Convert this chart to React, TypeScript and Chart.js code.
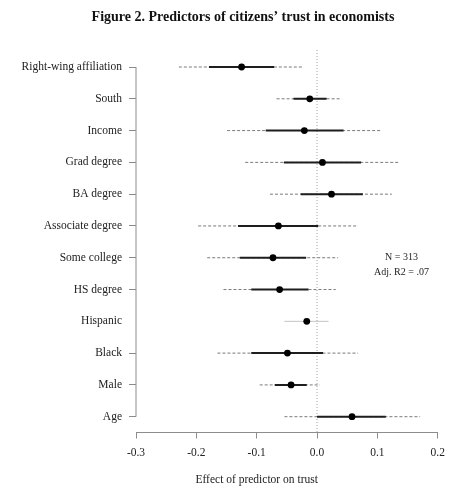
import React, { useEffect, useRef } from "react";
import { Chart, registerables } from "chart.js";

Chart.register(...registerables);

const predictors = [
  "Right-wing affiliation",
  "South",
  "Income",
  "Grad degree",
  "BA degree",
  "Associate degree",
  "Some college",
  "HS degree",
  "Hispanic",
  "Black",
  "Male",
  "Age",
];
const estimates = [-0.125, -0.012, -0.021, 0.009, 0.024, -0.064, -0.073, -0.062, -0.017, -0.049, -0.043, 0.058];
const innerLow = [-0.179, -0.039, -0.085, -0.055, -0.027, -0.131, -0.128, -0.109, null, -0.109, -0.07, 0.0];
const innerHigh = [-0.071, 0.016, 0.044, 0.073, 0.076, 0.002, -0.018, -0.014, null, 0.01, -0.017, 0.114];
const outerLow = [-0.229, -0.067, -0.149, -0.119, -0.078, -0.197, -0.182, -0.155, -0.054, -0.165, -0.095, -0.054];
const outerHigh = [-0.022, 0.041, 0.108, 0.137, 0.124, 0.068, 0.035, 0.031, 0.019, 0.068, 0.005, 0.171];
const xTicks = [-0.3, -0.2, -0.1, 0, 0.1, 0.2];
const xTickLabels = ["-0.3", "-0.2", "-0.1", "0.0", "0.1", "0.2"];
const untickedRows = ["Hispanic"];
const statsLines = ["N = 313", "Adj. R2 = .07"];
const titleText = "Figure 2. Predictors of citizens\u2019 trust in economists";
const xTitle = "Effect of predictor on trust";

const SERIF = "'Liberation Serif', 'DejaVu Serif', serif";

const decor = {
  id: "decor",
  beforeDatasetsDraw(chart: any) {
    const { ctx, chartArea, scales } = chart;
    const x = scales.x;
    const y = scales.y;
    ctx.save();
    const x0 = x.getPixelForValue(0);
    ctx.strokeStyle = "#a0a0a0";
    ctx.lineWidth = 1;
    ctx.setLineDash([1, 2]);
    ctx.beginPath();
    ctx.moveTo(x0, chartArea.top);
    ctx.lineTo(x0, chartArea.bottom);
    ctx.stroke();
    ctx.setLineDash([]);
    ctx.strokeStyle = "#8c8c8c";
    ctx.beginPath();
    ctx.moveTo(chartArea.left, y.getPixelForValue(0));
    ctx.lineTo(chartArea.left, y.getPixelForValue(predictors.length - 1));
    ctx.stroke();
    ctx.restore();
  },
  afterDraw(chart: any) {
    const { ctx, scales } = chart;
    const x = scales.x;
    const y = scales.y;
    ctx.save();
    ctx.fillStyle = "#111";
    ctx.textAlign = "center";
    ctx.textBaseline = "middle";
    ctx.font = `bold 14px ${SERIF}`;
    ctx.fillText(titleText, 243, 17);
    ctx.fillStyle = "#222";
    ctx.font = `10px ${SERIF}`;
    statsLines.forEach((t, i) => {
      ctx.fillText(t, x.getPixelForValue(0.14), y.getPixelForValue(6 + i * 0.45));
    });
    ctx.font = `11.5px ${SERIF}`;
    ctx.fillText(xTitle, x.getPixelForValue(-0.1), 480);
    ctx.restore();
  },
};

export default function App() {
  const ref = useRef<HTMLCanvasElement | null>(null);

  useEffect(() => {
    document.body.style.margin = "0";
    const canvas = ref.current;
    if (!canvas) return;

    const outerSets = predictors.map((name, i) => {
      const faint = untickedRows.includes(name);
      return {
        type: "line" as const,
        data: [
          { x: outerLow[i], y: i },
          { x: outerHigh[i], y: i },
        ],
        borderColor: faint ? "#c4c4c4" : "#7a7a7a",
        borderWidth: 1,
        borderDash: faint ? [] : [3, 2],
        pointRadius: 0,
        order: 3,
      };
    });
    const innerSets = predictors
      .map((name, i) => ({ name, i }))
      .filter((r) => innerLow[r.i] !== null && innerHigh[r.i] !== null)
      .map(({ i }) => ({
        type: "line" as const,
        data: [
          { x: innerLow[i] as number, y: i },
          { x: innerHigh[i] as number, y: i },
        ],
        borderColor: "#1e1e1e",
        borderWidth: 2,
        pointRadius: 0,
        order: 2,
      }));
    const pointSet = {
      type: "line" as const,
      data: estimates.map((v, i) => ({ x: v, y: i })),
      showLine: false,
      pointRadius: 3.4,
      pointBackgroundColor: "#000",
      pointBorderColor: "#000",
      pointBorderWidth: 0,
      order: 1,
    };

    const chart = new Chart(canvas, {
      type: "line",
      data: { datasets: [pointSet, ...innerSets, ...outerSets] as any },
      options: {
        animation: false,
        responsive: true,
        maintainAspectRatio: false,
        layout: { padding: { top: 50, right: 22.3, left: 0, bottom: 0 } },
        plugins: {
          legend: { display: false },
          title: { display: false },
          tooltip: { enabled: false },
        },
        scales: {
          x: {
            type: "linear",
            min: -0.3,
            max: 0.2,
            afterBuildTicks: (scale: any) => {
              scale.ticks = xTicks.map((v) => ({ value: v }));
            },
            afterFit: (scale: any) => {
              scale.height = 59.5;
            },
            ticks: {
              callback: (_v: any, idx: number) => xTickLabels[idx],
              font: { family: SERIF, size: 11.5 },
              color: "#222",
              padding: 8,
              maxRotation: 0,
            },
            grid: {
              drawOnChartArea: false,
              drawTicks: true,
              tickLength: 6,
              color: "#8c8c8c",
            },
            border: { display: true, color: "#8c8c8c", width: 1 },
          },
          y: {
            type: "linear",
            reverse: true,
            min: -0.535,
            max: 11.497,
            afterBuildTicks: (scale: any) => {
              scale.ticks = predictors.map((_p, i) => ({ value: i }));
            },
            afterFit: (scale: any) => {
              scale.width = 136;
            },
            ticks: {
              callback: (_v: any, idx: number) => predictors[idx],
              font: { family: SERIF, size: 11.5 },
              color: "#222",
              padding: 7,
            },
            grid: {
              drawOnChartArea: false,
              drawTicks: true,
              tickLength: 7,
              color: (c: any) =>
                c.tick && untickedRows.includes(predictors[c.tick.value]) ? "rgba(0,0,0,0)" : "#8c8c8c",
            },
            border: { display: false },
          },
        },
      },
      plugins: [decor],
    });

    return () => chart.destroy();
  }, []);

  return (
    <div style={{ position: "relative", width: 460, height: 492, background: "#fff" }}>
      <canvas ref={ref} />
    </div>
  );
}
